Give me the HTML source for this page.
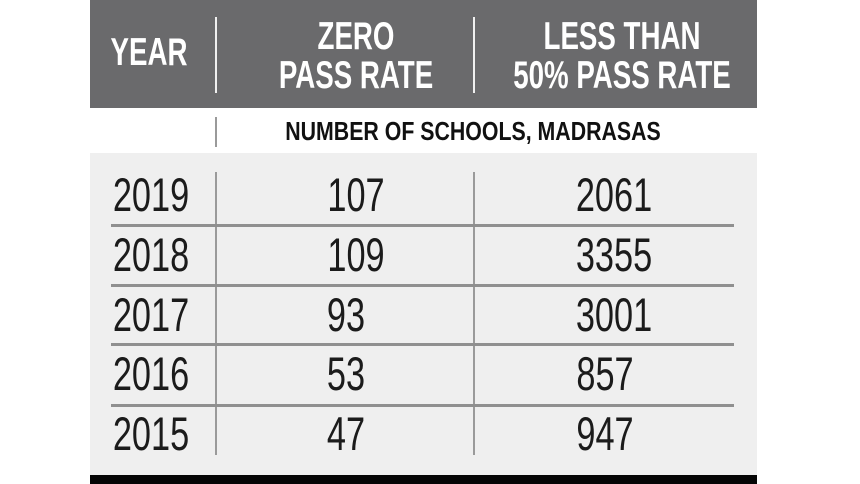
<!DOCTYPE html>
<html><head><meta charset="utf-8"><style>
*{margin:0;padding:0}
body{width:860px;height:484px;background:#fff;position:relative;overflow:hidden;font-family:"Liberation Sans Narrow","Liberation Sans",sans-serif}
.a{position:absolute}
.t{position:absolute;white-space:nowrap;transform:translateX(-50%) scaleX(0.73);line-height:1}
.h{color:#fff;font-weight:bold;font-size:39px;transform:translateX(-50%) scaleX(0.71)}
.n{color:#1b1b1b;font-size:47px}
.vl{position:absolute;width:2px;background:#9a9a9a}
.hl{position:absolute;left:111px;width:623px;height:3px;background:#8f8f8f}
</style></head><body>
<div class="a" style="left:90px;top:0;width:667px;height:108px;background:#6a6a6c"></div>
<div class="a" style="left:90px;top:153px;width:667px;height:322px;background:#efefef"></div>
<div class="a" style="left:90px;top:475px;width:667px;height:9px;background:#050505"></div>
<div class="vl" style="left:215px;top:17px;height:76px;background:#f0f0f0"></div>
<div class="vl" style="left:473px;top:17px;height:76px;background:#f0f0f0"></div>
<div class="vl" style="left:215px;top:117px;height:30px"></div>
<div class="vl" style="left:215px;top:172px;height:283px"></div>
<div class="vl" style="left:473px;top:172px;height:283px"></div>
<div class="hl" style="top:224px"></div>
<div class="hl" style="top:284px"></div>
<div class="hl" style="top:343px"></div>
<div class="hl" style="top:404px"></div>
<div class="t h" style="left:149px;top:33px">YEAR</div>
<div class="t h" style="left:356px;top:17px">ZERO</div>
<div class="t h" style="left:356px;top:56px">PASS RATE</div>
<div class="t h" style="left:622px;top:17px">LESS THAN</div>
<div class="t h" style="left:622px;top:56px">50% PASS RATE</div>
<div class="t" style="left:473px;top:118px;font-weight:bold;font-size:26px;color:#111;transform:translateX(-50%) scaleX(0.82)">NUMBER OF SCHOOLS, MADRASAS</div>
<div class="t n" style="left:151px;top:171px">2019</div>
<div class="t n" style="left:356px;top:171px">107</div>
<div class="t n" style="left:614px;top:171px">2061</div>
<div class="t n" style="left:151px;top:231px">2018</div>
<div class="t n" style="left:356px;top:231px">109</div>
<div class="t n" style="left:614px;top:231px">3355</div>
<div class="t n" style="left:151px;top:291px">2017</div>
<div class="t n" style="left:346px;top:291px">93</div>
<div class="t n" style="left:614px;top:291px">3001</div>
<div class="t n" style="left:151px;top:350px">2016</div>
<div class="t n" style="left:346px;top:350px">53</div>
<div class="t n" style="left:605px;top:350px">857</div>
<div class="t n" style="left:151px;top:410px">2015</div>
<div class="t n" style="left:346px;top:410px">47</div>
<div class="t n" style="left:605px;top:410px">947</div>
</body></html>
